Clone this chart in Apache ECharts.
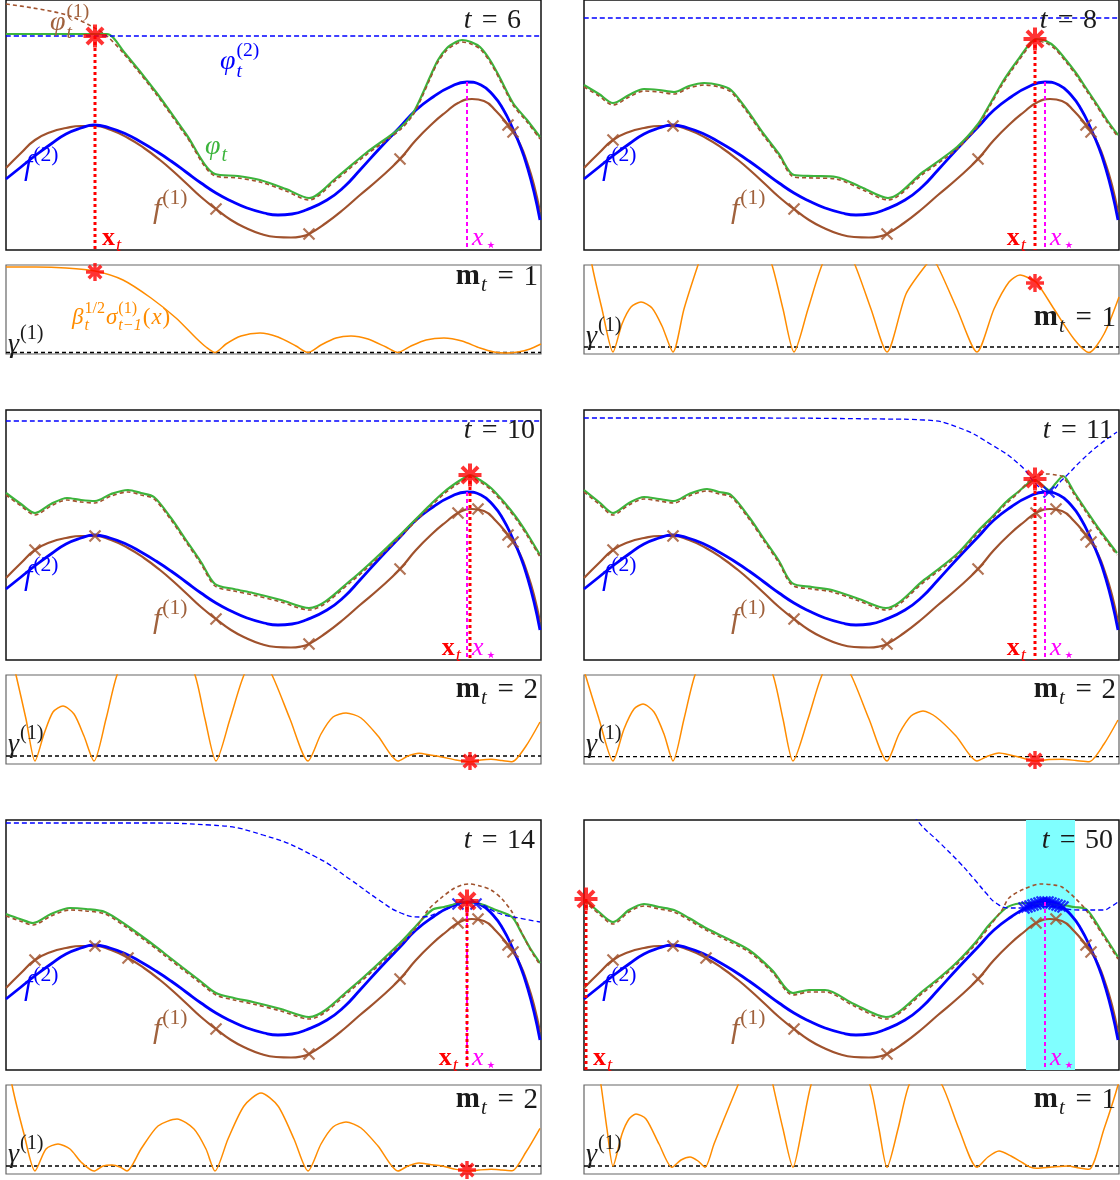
<!DOCTYPE html>
<html>
<head>
<meta charset="utf-8">
<script src="https://cdn.jsdelivr.net/npm/echarts@6/dist/echarts.min.js"></script>
<style>
  html, body { margin: 0; padding: 0; background: #fff; }
  #chart { width: 1120px; height: 1180px; }
</style>
</head>
<body>
<div id="chart"></div>
<script>
// ---- data (x: 0..535 along the domain, y: height above the panel bottom) ----
const T_LABELS = ['6', '8', '10', '11', '14', '50'];
const M_LABELS = ['1', '1', '2', '2', '2', '1'];
const X_T = [89, 451, 464, 451, 461, 2];
const STAR_MAIN = [214, 211, 185, 181, 169, 171];
const STAR_LOW = [82, 71, 3, 4, 4, null];
const X_STAR = [461, 168];
const GAMMA = [1.5, 7, 8, 7.3, 8, 8];
const BAND_F = [442, 491];

// true objectives
const F1 = [[0,82],[15,97],[29,110],[45,118],[60,122],[75,124],[89,124],[105,120],[122,112],[138,102],[154,90],[168,78],[181,66],[195,53],[210,41],[225,30],[240,22],[255,16],[270,13],[285,12.5],[295,13.5],[303,16],[320,27],[338,41],[354,55],[374,72],[394,91],[410,110],[427,127],[440,138],[452,147],[466,151],[478,149],[490,139],[502,125],[507,118],[514,106],[521,88],[528,65],[534,38]];
const F2 = [[0,71],[15,83],[30,95],[45,106],[60,116],[75,122],[88,125],[104,122],[120,116],[135,108],[150,99],[165,89],[180,78],[195,67],[210,57],[225,49],[241,42],[258,37],[272,35],[286,36],[300,40],[321,50],[338,63],[354,80],[374,102],[394,123],[410,140],[427,153],[444,163],[461,168],[475,165],[487,155],[497,141],[507,121],[515,102],[521,84],[528,58],[534,30]];

// phi_t (green)
const PHI_A = [[0,216],[40,216],[80,216],[101,216],[118,198],[150,158],[180,116],[209,76],[232,74],[254,70],[280,61],[303,52],[330,72],[360,97],[394,122],[407,137],[416,155],[424,173],[432,190],[441,202],[450,208],[456,210],[465,208],[474,203],[484,190],[494,172],[507,147],[521,130],[534,113]];
const PHI_B = [[0,165],[15,156],[29,147],[45,155],[60,161],[75,160],[90,158],[105,164],[120,167],[135,165],[147,160],[163,140],[179,117],[195,96],[210,75],[230,74],[252,73],[279,62],[304,52],[339,78],[373,103],[394,126],[406,146],[418,167],[428,182],[436,193],[444,204],[452,211],[462,209],[471,203],[482,190],[492,177],[502,162],[512,147],[523,130],[534,115]];
const PHI_C = [[0,167],[15,156],[29,147],[45,156],[61,162],[75,160],[89,159],[105,166],[122,170],[135,167],[148,163],[165,142],[180,120],[195,98],[209,76],[228,71],[247,67],[275,60],[303,52],[345,80],[394,125],[410,141],[426,157],[438,168],[450,177],[458,182],[464,185],[474,180],[485,172],[498,158],[510,143],[522,125],[534,105]];
const PHI_D = [[0,170],[15,158],[29,147],[45,157],[60,163],[75,161],[90,159],[105,166],[123,171],[135,168],[147,165],[165,143],[180,121],[195,99],[208,77],[228,73],[248,70],[275,61],[302,52],[340,80],[373,106],[394,129],[408,143],[422,158],[434,168],[446,178],[451,180],[458,175],[465,170],[472,177],[479,184],[490,168],[502,150],[515,131],[533,107]];
const PHI_E = [[0,156],[14,151],[27,147],[45,156],[64,162],[80,161],[99,158],[120,145],[141,130],[158,117],[176,103],[193,90],[210,77],[228,72],[247,68],[275,61],[303,53],[345,82],[394,127],[410,144],[426,160],[438,163],[450,166],[461,168],[475,166],[490,160],[506,153],[515,138],[524,122],[534,107]];
const PHI_F = [[0,171],[15,158],[29,148],[45,160],[60,166],[75,163],[90,160],[105,152],[120,143],[142,132],[165,120],[188,100],[209,77],[225,80],[241,80],[270,66],[302,53],[340,80],[370,105],[391,127],[405,145],[422,162],[432,166],[443,167],[460,166],[478,165],[490,163],[502,161],[518,138],[534,113]];

// phi_t^(1) (brown dashed)
const PHI1_A = [[0,246],[27,242],[61,235],[87,223],[101,214],[118,196],[150,156],[180,114],[209,74],[232,72],[254,68],[280,59],[303,50],[330,70],[360,95],[394,120],[407,135],[416,153],[424,171],[432,188],[441,200],[450,206],[456,208],[465,206],[474,201],[484,188],[494,170],[507,145],[521,128],[534,111]];
const PHI1_B = [[0,163],[15,154],[29,145],[45,153],[60,159],[75,158],[90,156],[105,162],[120,165],[135,163],[147,158],[163,138],[179,115],[195,94],[210,73],[230,72],[252,71],[279,60],[304,50],[339,76],[373,101],[394,124],[406,144],[418,165],[428,180],[436,191],[444,202],[452,209],[462,207],[471,201],[482,188],[492,175],[502,160],[512,145],[523,128],[534,113]];
const PHI1_C = [[0,165],[15,154],[29,145],[45,154],[61,160],[75,158],[89,157],[105,164],[122,168],[135,165],[148,161],[165,140],[180,118],[195,96],[209,74],[228,69],[247,65],[275,58],[303,50],[345,78],[394,123],[410,139],[426,155],[438,166],[450,175],[458,180],[464,183],[474,178],[485,170],[498,156],[510,141],[522,123],[534,103]];
const PHI1_D = [[0,168],[15,156],[29,145],[45,155],[60,161],[75,159],[90,157],[105,164],[123,169],[135,166],[147,163],[165,141],[180,119],[195,97],[208,75],[228,71],[248,68],[275,59],[302,50],[340,78],[373,104],[394,127],[408,141],[422,156],[434,167],[446,180],[455,185],[464,186],[472,185],[479,183],[490,166],[502,148],[515,129],[533,105]];
const PHI1_E = [[0,154],[14,149],[27,145],[45,154],[64,160],[80,159],[99,156],[120,143],[141,128],[158,115],[176,101],[193,88],[210,75],[228,70],[247,66],[275,59],[303,51],[345,80],[394,125],[410,142],[422,160],[435,172],[447,181],[456,185],[464,186],[474,184],[485,180],[496,171],[506,158],[515,139],[524,121],[534,105]];
const PHI1_F = [[0,169],[15,156],[29,146],[45,158],[60,164],[75,161],[90,158],[105,150],[120,141],[142,130],[165,118],[188,98],[209,75],[225,78],[241,78],[270,64],[302,51],[340,78],[370,103],[391,125],[405,143],[418,160],[425,172],[440,181],[457,186],[470,185],[478,183],[491,172],[502,160],[518,136],[534,111]];

// phi_t^(2) (blue dashed)
const PHI2_A = [[0,214],[535,214]];
const PHI2_B = [[0,232],[535,232]];
const PHI2_C = [[0,239],[535,239]];
const PHI2_D = [[0,242],[150,242],[300,241],[340,240],[373,233],[408,215],[436,195],[453,175],[464,168],[478,180],[498,200],[515,215],[533,228]];
const PHI2_E = [[0,247],[134,247],[204,245],[257,235],[310,213],[345,190],[373,170],[395,157],[415,153],[436,159],[450,165],[461,168],[471,167],[492,157],[513,152],[534,148]];
const PHI2_F = [[318,275],[333,250],[356,227],[375,208],[391,190],[402,177],[412,167],[425,162],[436,162],[450,164],[471,163],[495,160],[519,160],[528,164],[534,168]];

// beta^(1/2) sigma^(1) (orange, lower panels)
const SIG_A = [[0,87],[30,87],[60,86],[89,83],[117,74],[145,56],[170,36],[190,16],[200,7],[209,1.5],[220,10],[235,18],[254,21],[272,17],[290,8],[302,1.5],[315,9],[330,16],[345,18],[362,15],[380,7],[392,1.5],[405,8],[420,14],[438,16],[456,13],[474,6],[488,2],[500,1],[512,2],[524,5],[535,10]];
const SIG_B = [[0,140],[8,89],[18,45],[29,2],[38,30],[47,47],[57,52],[68,46],[78,28],[89,2],[100,45],[114,89],[125,120],[150,160],[175,120],[188,89],[199,45],[210,2],[224,45],[238,89],[255,120],[271,89],[287,45],[303,2],[322,60],[342,89],[347,93],[353,89],[373,45],[393,2],[410,45],[425,72],[436,79],[445,76],[453,71],[470,45],[490,15],[505,1.5],[520,20],[535,57]];
const SIG_C = [[0,130],[10,89],[20,45],[29,3],[38,30],[47,52],[57,58],[68,50],[78,28],[88,3],[100,45],[111,89],[130,130],[150,150],[170,130],[189,89],[199,45],[210,3],[224,45],[238,89],[252,110],[266,89],[284,45],[302,3],[315,30],[327,47],[340,51],[355,46],[372,28],[392,3],[402,8],[413,10.7],[424,9],[436,7],[450,4],[464,2],[475,4],[485,4.7],[496,3.5],[506,2.3],[520,18],[534,42]];
const SIG_D = [[0,95],[1.4,89],[15,45],[29,3],[40,35],[50,55],[59,60],[70,52],[80,30],[89,3],[100,45],[111,89],[130,130],[150,150],[170,130],[189,89],[199,45],[209,3],[224,45],[238,89],[252,110],[267,89],[285,45],[303,3],[315,30],[327,48],[339,53],[352,47],[372,28],[393,3],[404,8],[415,11],[426,9],[436,6.7],[445,4],[451,3],[465,4.5],[478,4.7],[492,3.5],[505,2.3],[520,20],[534,44]];
const SIG_E = [[0,130],[6,89],[18,40],[29,3],[40,25],[52,30],[64,25],[75,12],[88,3],[97,8],[106,9],[114,7],[121,3],[135,25],[152,48],[171,55],[188,45],[200,25],[209,3],[222,35],[238,68],[255,81],[272,68],[288,35],[302,3],[315,30],[327,47],[340,52],[355,46],[372,28],[392,3],[402,8],[413,11],[424,9.5],[436,8],[448,5],[461,3],[473,4],[485,4.7],[496,4],[506,3.3],[520,22],[534,45.7]];
const SIG_F = [[0,200],[10,130],[17,89],[23,45],[29,8],[38,40],[45,55],[52,60],[62,55],[75,30],[88,6.7],[97,14],[106,17],[114,13],[121,6.7],[130,30],[140,55],[154,89],[170,130],[180,130],[189,89],[199,45],[209,6.7],[218,45],[227,89],[240,120],[270,120],[286,89],[295,45],[303,6.7],[314,45],[325,89],[340,110],[358,89],[375,45],[393,6.7],[404,17],[415,23],[427,18],[439,11],[446,7],[453,5.7],[468,7],[484,8],[495,6],[505,4.7],[520,45],[534,89],[538,110]];

// evaluated points
const OBS_A = [[210,41],[303,16],[394,91],[502,125],[507,118]];
const OBS_B = [[29,110],[89,124],[210,41],[303,16],[394,91],[502,125],[507,118]];
const OBS_C = [[29,110],[89,124],[210,41],[303,16],[394,91],[452,147],[472,151],[502,125],[507,118]];
const OBS_D = [[29,110],[89,124],[210,41],[303,16],[394,91],[452,147],[472,151],[502,125],[507,118]];
const OBS_E = [[29,110],[89,124],[122,112],[210,41],[303,16],[394,91],[452,147],[472,151],[502,125],[507,118]];
const OBS_F = [[29,110],[89,124],[122,112],[210,41],[303,16],[394,91],[452,147],[472,151],[502,125],[507,118]];
const OBS2_D = [[465,168]];
const OBS2_E = [[452,166],[470,166]];
const OBS2_F = [[440,162],[443,163],[446,164],[449,165],[452,166],[455,167],[458,168],[461,168],[464,168],[467,167],[470,166],[473,165],[476,164],[479,163]];

const PHI = [PHI_A, PHI_B, PHI_C, PHI_D, PHI_E, PHI_F];
const PHI1 = [PHI1_A, PHI1_B, PHI1_C, PHI1_D, PHI1_E, PHI1_F];
const PHI2 = [PHI2_A, PHI2_B, PHI2_C, PHI2_D, PHI2_E, PHI2_F];
const SIG = [SIG_A, SIG_B, SIG_C, SIG_D, SIG_E, SIG_F];
const OBS = [OBS_A, OBS_B, OBS_C, OBS_D, OBS_E, OBS_F];
const OBS2 = [[], [], [], OBS2_D, OBS2_E, OBS2_F];

// ---- layout / styles ----
const COL_LEFT = [6, 584];
const MAIN_TOP = [0, 410, 820];
const LOW_TOP = [265, 675, 1085];
const PANEL_W = 535, MAIN_H = 250, LOW_H = 89;
const X_MAX = 535, MAIN_MAX = 250, LOW_MAX = 89;

const C_F1 = '#a0522d', C_F2 = '#0000ff', C_PHI = '#3cb43c', C_RED = '#ff0000',
      C_MAG = '#ff00ff', C_ORANGE = '#ff8c00', C_BAND = '#80ffff';
const SYM_X = 'path://M0,0L10,10M10,0L0,10';
const SYM_STAR = 'path://M10,0L10,20M0,10L20,10M3,3L17,17M17,3L3,17';

const chart = echarts.init(document.getElementById('chart'));

const grid = [], xAxis = [], yAxis = [], series = [];
for (let i = 0; i < 12; i++) {
  const p = i % 6, low = i >= 6;
  const row = Math.floor(p / 2), col = p % 2;
  grid.push({
    left: COL_LEFT[col], top: low ? LOW_TOP[row] : MAIN_TOP[row],
    width: PANEL_W, height: low ? LOW_H : MAIN_H,
    show: true, borderColor: low ? '#666' : '#111', borderWidth: low ? 1.2 : 1.5
  });
  xAxis.push({ gridIndex: i, type: 'value', min: 0, max: X_MAX, show: false });
  yAxis.push({ gridIndex: i, type: 'value', min: 0, max: low ? LOW_MAX : MAIN_MAX, show: false });
}

const line = (g, data, color, width, type, smooth, z) => ({
  type: 'line', xAxisIndex: g, yAxisIndex: g, data, symbol: 'none', smooth,
  lineStyle: { color, width, type }, z, silent: true
});
const marks = (g, data, symbol, size, color, width, z) => ({
  type: 'scatter', xAxisIndex: g, yAxisIndex: g, data, symbol, symbolSize: size,
  itemStyle: { color, borderColor: color, borderWidth: width }, z, clip: false, silent: true
});

for (let p = 0; p < 6; p++) {
  const g = p, gl = p + 6;
  if (p === 5) {
    series.push({
      type: 'line', xAxisIndex: g, yAxisIndex: g, data: [], z: 1,
      markArea: { silent: true, itemStyle: { color: C_BAND },
        data: [[{ xAxis: BAND_F[0], yAxis: 0 }, { xAxis: BAND_F[1], yAxis: MAIN_MAX }]] }
    });
  }
  series.push(line(g, F1, C_F1, 2.2, 'solid', 0.5, 3));
  series.push(line(g, F2, C_F2, 2.8, 'solid', 0.5, 4));
  series.push(line(g, PHI[p], C_PHI, 2.2, 'solid', 0.3, 5));
  series.push(line(g, PHI1[p], C_F1, 1.6, [4, 3], 0.3, 6));
  series.push(line(g, PHI2[p], C_F2, 1.3, [5, 3], 0.5, 6));
  series.push(marks(g, OBS[p], SYM_X, 11, C_F1, 2.2, 7));
  if (OBS2[p].length) series.push(marks(g, OBS2[p], SYM_X, 11, C_F2, 2.2, 8));
  series.push(line(g, [[X_STAR[0], X_STAR[1]], [X_STAR[0], 0]], C_MAG, 2, [4, 3], false, 9));
  series.push(line(g, [[X_T[p], STAR_MAIN[p]], [X_T[p], 0]], C_RED, 3, [3, 3], false, 10));
  series.push(marks(g, [[X_T[p], STAR_MAIN[p]]], SYM_STAR, 23, C_RED, 4, 11));

  series.push(line(gl, [[0, GAMMA[p]], [X_MAX, GAMMA[p]]], '#000', 1.3, [4, 3], false, 3));
  series.push(line(gl, SIG[p], C_ORANGE, 1.5, 'solid', 0.25, 4));
  if (STAR_LOW[p] !== null) {
    series.push(marks(gl, [[X_T[p], STAR_LOW[p]]], SYM_STAR, 18, C_RED, 3.4, 11));
  }
}

chart.setOption({ animation: false, backgroundColor: '#fff', grid, xAxis, yAxis, series });

// ---- math-style labels ----
const ctx = document.createElement('canvas').getContext('2d');
const SERIF = '"Liberation Serif", "DejaVu Serif", serif';
const fontOf = (st, s) => (st === 'i' ? 'italic ' : st === 'b' ? 'bold ' : '') + s.toFixed(1) + 'px ' + SERIF;
const widthOf = (t, f) => { ctx.font = f; return ctx.measureText(t).width; };
const SP = '\u2004';

function mathLabel(g, pos, parts, size, color, align) {
  const pt = chart.convertToPixel({ gridIndex: g }, pos);
  const kids = [];
  let x = 0;
  const put = (t, f, y) => kids.push({
    type: 'text', x, y, silent: true, z: 50,
    style: { text: t, font: f, fill: color, align: 'left', verticalAlign: 'middle',
             textAlign: 'left', textVerticalAlign: 'middle' }
  });
  parts.forEach(q => {
    const k = q.k || 'n';
    if (k === 'ss') {
      const fs = size * 0.7;
      const f1 = fontOf('r', fs), f2 = fontOf('i', fs);
      put(q.sup, f1, -size * 0.4);
      put(q.sub, f2, size * 0.34);
      x += Math.max(widthOf(q.sup, f1), widthOf(q.sub, f2)) + 1;
    } else if (k === 'sup' || k === 'sub') {
      const f = fontOf(q.st || (k === 'sup' ? 'r' : 'i'), size * 0.72);
      put(q.t, f, k === 'sup' ? -size * 0.4 : size * 0.3);
      x += widthOf(q.t, f) + 1;
    } else {
      const f = fontOf(q.st || 'i', size);
      put(q.t, f, 0);
      x += widthOf(q.t, f) + 1;
    }
  });
  const dx = align === 'right' ? -x : 0;
  return { type: 'group', x: pt[0] + dx, y: pt[1], children: kids, z: 50, silent: true };
}

const T_RIGHT = [516, 514, 530, 530, 530, 530];
const M_V = [77, 36, 74, 74, 74, 74];
const GAMMA_LABEL_V = [9, 17, 19, 19, 19, 19];
const XT_SIDE = ['right', 'left', 'left', 'left', 'left', 'right'];

const labels = [];
for (let p = 0; p < 6; p++) {
  const gl = p + 6;
  labels.push(mathLabel(p, [T_RIGHT[p], 229],
    [{ t: 't' }, { t: SP + '=' + SP + T_LABELS[p], st: 'r' }], 28, '#1a1a1a', 'right'));
  labels.push(mathLabel(p, [18, 83], [{ t: 'f' }, { t: '(2)', k: 'sup' }], 30, C_F2, 'left'));
  labels.push(mathLabel(p, [147, 40], [{ t: 'f' }, { t: '(1)', k: 'sup' }], 30, '#a0623d', 'left'));
  if (XT_SIDE[p] === 'right') {
    labels.push(mathLabel(p, [X_T[p] + 7, 12], [{ t: 'x', st: 'b' }, { t: 't', k: 'sub' }], 26, C_RED, 'left'));
  } else {
    labels.push(mathLabel(p, [X_T[p] - 8, 12], [{ t: 'x', st: 'b' }, { t: 't', k: 'sub' }], 26, C_RED, 'right'));
  }
  labels.push(mathLabel(p, [466, 12], [{ t: 'x' }, { t: '⋆', k: 'sub', st: 'r' }], 26, C_MAG, 'left'));
  labels.push(mathLabel(gl, [533, M_V[p]],
    [{ t: 'm', st: 'b' }, { t: 't', k: 'sub' }, { t: SP + '=' + SP + M_LABELS[p], st: 'r' }], 29, '#1a1a1a', 'right'));
  labels.push(mathLabel(gl, [2, GAMMA_LABEL_V[p]], [{ t: 'γ' }, { t: '(1)', k: 'sup' }], 28, '#1a1a1a', 'left'));
}
labels.push(mathLabel(0, [199, 103], [{ t: 'φ' }, { t: 't', k: 'sub' }], 28, C_PHI, 'left'));
labels.push(mathLabel(0, [214, 188], [{ t: 'φ' }, { k: 'ss', sup: '(2)', sub: 't' }], 28, C_F2, 'left'));
labels.push(mathLabel(0, [44, 227], [{ t: 'φ' }, { k: 'ss', sup: '(1)', sub: 't' }], 28, '#a0623d', 'left'));
labels.push(mathLabel(6, [66, 36],
  [{ t: 'β' }, { k: 'ss', sup: '1/2', sub: 't' }, { t: 'σ' }, { k: 'ss', sup: '(1)', sub: 't−1' },
   { t: '(', st: 'r' }, { t: 'x' }, { t: ')', st: 'r' }], 23, C_ORANGE, 'left'));

chart.setOption({ graphic: labels });
</script>
</body>
</html>
